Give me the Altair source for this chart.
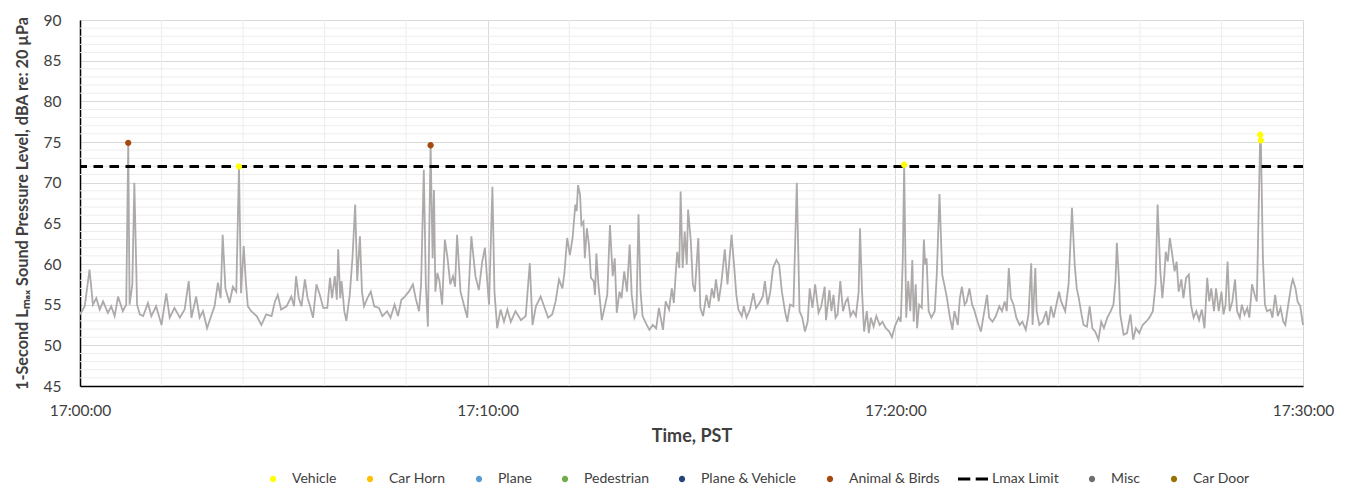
import altair as alt
import pandas as pd

# ---- time (seconds after 17:00:00) and 1-second Lmax level (dBA) ----
t_a = [0, 7, 14, 19, 24, 29, 34, 41, 46, 51,
       56, 63, 68, 71, 73, 77, 80, 84, 88, 93,
       100, 105, 112, 120, 127, 132, 139, 147, 154, 160,
       164, 171, 176, 181, 187, 193, 198, 203, 207, 210,
       214, 220, 225, 230, 234, 237, 241, 244, 247, 252,
       260, 267, 274, 282, 287, 291, 296, 304, 311, 315,
       318, 322, 326, 331, 335, 338, 343, 348, 353, 358]
v_a = [53.8, 54.8, 59.3, 55.0, 55.8, 54.4, 55.4, 54.0, 54.8, 53.6,
       56.0, 54.2, 55.0, 74.9, 55.0, 57.5, 70.0, 55.0, 53.8, 53.6,
       55.2, 53.6, 54.8, 52.5, 56.4, 53.4, 54.6, 53.4, 54.4, 57.9,
       53.4, 56.0, 53.4, 54.2, 52.1, 53.6, 54.8, 57.7, 55.8, 63.6,
       57.0, 55.2, 57.2, 56.6, 72.0, 56.4, 62.2, 57.9, 54.8, 54.2,
       53.6, 52.5, 53.8, 53.6, 55.4, 56.2, 54.4, 54.8, 56.0, 54.8,
       58.5, 55.8, 54.8, 58.1, 55.8, 55.0, 53.4, 57.5, 56.2, 54.6]

t_b = [364, 368, 371, 375, 378, 380, 383, 385, 389, 392,
       397, 401, 405, 408, 412, 415, 418, 423, 428, 433,
       440, 445, 452, 457, 463, 468, 473, 478, 484, 490,
       494, 499, 502, 506, 509, 512, 516, 519, 521, 523,
       526, 529, 533, 537, 541, 545, 549, 552, 555, 560,
       565, 570, 576, 582, 587, 592, 596, 599, 602, 607,
       610, 614, 619, 624, 629, 634, 641, 649, 656, 662,
       666, 671, 678, 683, 689, 695, 700, 705, 710, 713,
       717]
v_b = [54.6, 58.3, 55.8, 58.5, 55.6, 61.8, 55.8, 57.9, 54.2, 53.0,
       56.2, 60.7, 67.3, 57.9, 63.4, 56.6, 54.8, 55.8, 56.6, 54.8,
       54.6, 53.6, 54.2, 53.4, 55.0, 53.6, 55.6, 56.0, 56.6, 57.5,
       55.8, 54.2, 57.5, 71.6, 57.5, 52.3, 74.6, 60.7, 69.1, 56.6,
       58.9, 57.9, 55.0, 63.0, 60.7, 57.5, 58.5, 57.2, 63.6, 56.6,
       55.0, 53.4, 63.4, 58.5, 56.8, 60.3, 62.0, 58.3, 55.0, 69.5,
       56.6, 52.1, 54.4, 52.9, 54.4, 52.9, 54.2, 53.1, 53.6, 60.1,
       52.5, 54.8, 56.0, 54.8, 53.4, 53.8, 55.4, 58.1, 57.0, 58.9,
       63.2]

t_c = [721, 725, 729, 731, 733, 736, 738, 741, 743, 746,
       749, 752, 756, 758, 760, 763, 768, 773, 776, 780,
       784, 787, 790, 794, 797, 801, 805, 809, 812, 816,
       819, 822, 825, 828, 833, 838, 843, 848, 852, 858,
       862, 867, 871, 874, 877, 879, 882, 884, 887, 890,
       893, 895, 899, 902, 905, 910, 913, 917, 922, 926,
       930, 933, 936, 940, 944, 949, 953, 956, 959, 963,
       966, 969, 974, 977, 981, 986, 991, 995, 1000, 1005,
       1008, 1012, 1016, 1020, 1025, 1029, 1033, 1038, 1041, 1045,
       1050, 1055, 1059, 1063, 1067, 1071, 1074, 1078, 1082]
v_c = [61.1, 63.2, 67.3, 66.5, 69.7, 68.5, 64.8, 65.2, 60.7, 64.4,
       62.4, 58.3, 57.9, 56.2, 61.3, 57.5, 53.1, 55.0, 56.2, 64.8,
       58.5, 60.7, 54.0, 56.6, 55.8, 59.1, 56.6, 62.4, 56.2, 53.4,
       54.0, 66.1, 56.6, 53.6, 52.7, 51.9, 52.5, 52.1, 54.6, 51.9,
       55.4, 54.4, 57.0, 55.2, 59.1, 61.5, 59.5, 68.9, 59.5, 64.0,
       59.9, 66.7, 62.8, 57.5, 56.6, 63.2, 54.6, 53.6, 56.2, 54.6,
       57.0, 55.8, 58.1, 55.4, 57.7, 61.8, 57.5, 60.7, 63.6, 59.5,
       56.2, 54.4, 53.6, 54.8, 53.4, 54.4, 56.4, 54.6, 55.2, 56.0,
       57.9, 55.0, 56.6, 59.5, 60.5, 59.9, 56.6, 54.0, 52.9, 55.0,
       54.8, 70.0, 54.2, 53.4, 51.7, 52.9, 57.0, 54.6, 57.5]

t_d = [1087, 1091, 1096, 1098, 1103, 1106, 1109, 1112, 1115, 1119,
       1123, 1127, 1130, 1134, 1138, 1142, 1146, 1148, 1151, 1154,
       1158, 1161, 1164, 1168, 1172, 1177, 1181, 1186, 1191, 1195,
       1200, 1205, 1208, 1211, 1213, 1216, 1219, 1222, 1225, 1227,
       1230, 1232, 1235, 1239, 1242, 1244, 1246, 1249, 1253, 1258,
       1261, 1265, 1269, 1272, 1276, 1280, 1284, 1287, 1292, 1295,
       1298, 1302, 1305, 1309, 1313, 1316, 1321, 1326, 1331, 1335,
       1338, 1343, 1348, 1353, 1357, 1361, 1364, 1367, 1370, 1374,
       1378, 1383, 1387, 1392, 1396, 1400, 1402, 1406, 1408, 1412,
       1417, 1422, 1425, 1429, 1433, 1437, 1441, 1444]
v_d = [54.0, 54.8, 57.2, 53.1, 56.8, 54.2, 56.2, 53.4, 53.8, 57.9,
       54.2, 55.4, 55.8, 53.6, 54.2, 53.6, 56.6, 64.4, 56.6, 51.7,
       54.2, 51.5, 53.4, 52.3, 53.6, 52.5, 52.9, 52.1, 51.7, 51.0,
       52.5, 53.4, 52.9, 60.7, 72.2, 53.4, 57.9, 54.2, 60.5, 52.9,
       57.5, 52.1, 55.0, 54.6, 63.0, 59.9, 60.7, 54.2, 53.4, 54.2,
       58.7, 68.6, 58.7, 57.5, 55.8, 53.6, 51.9, 54.2, 52.5, 55.8,
       57.2, 55.0, 55.4, 57.0, 55.0, 54.4, 52.9, 51.7, 54.2, 56.2,
       53.4, 52.9, 53.6, 54.8, 54.2, 55.4, 54.2, 59.5, 55.8, 55.0,
       53.4, 52.5, 52.9, 51.9, 53.8, 60.1, 52.5, 59.5, 54.2, 52.5,
       52.9, 54.2, 52.5, 54.8, 53.4, 55.0, 56.6, 55.4]

t_e = [1450, 1455, 1460, 1464, 1467, 1470, 1474, 1477, 1482, 1486,
       1490, 1494, 1499, 1503, 1507, 1512, 1517, 1521, 1524, 1526,
       1529, 1531, 1536, 1541, 1546, 1550, 1554, 1559, 1564, 1569,
       1574, 1579, 1583, 1586, 1590, 1593, 1596, 1598, 1601, 1604,
       1607, 1611, 1614, 1617, 1621, 1624, 1628, 1632, 1635, 1639,
       1643, 1647, 1651, 1655, 1659, 1662, 1665, 1669, 1672, 1676,
       1680, 1683, 1686, 1689, 1692, 1696, 1700, 1703, 1707, 1710,
       1714, 1718, 1721, 1725, 1729, 1732, 1737, 1738, 1741, 1744,
       1747, 1752, 1755, 1759, 1763, 1767, 1771, 1774, 1779, 1783,
       1785, 1789, 1792, 1796, 1800]
v_e = [54.2, 57.5, 66.9, 59.9, 57.0, 55.8, 53.8, 52.5, 52.3, 54.8,
       52.1, 51.7, 50.7, 52.9, 52.1, 53.4, 54.2, 55.0, 57.9, 62.6,
       58.3, 53.8, 51.3, 51.5, 53.8, 50.7, 52.1, 51.5, 52.5, 52.9,
       53.4, 54.2, 57.5, 67.3, 59.1, 55.8, 58.7, 61.5, 60.3, 63.2,
       61.5, 59.1, 60.3, 56.6, 58.1, 55.8, 58.3, 58.7, 55.0, 53.4,
       54.2, 53.1, 54.4, 52.1, 58.3, 55.4, 57.0, 54.2, 57.0, 54.2,
       56.6, 53.8, 55.0, 60.3, 54.2, 55.4, 58.1, 54.2, 53.4, 55.0,
       53.8, 54.6, 53.4, 57.5, 56.2, 55.4, 75.9, 75.2, 60.7, 55.0,
       54.2, 54.4, 53.4, 56.2, 53.6, 54.6, 52.9, 52.5, 55.4, 57.5,
       58.1, 57.0, 55.4, 54.8, 52.5]

t_sec = t_a + t_b + t_c + t_d + t_e
level_db = v_a + v_b + v_c + v_d + v_e

# ---- identified events ----
event_t = [71, 234, 516, 1213, 1737, 1738]
event_db = [74.9, 72.0, 74.6, 72.2, 75.9, 75.2]
event_type = ["Animal & Birds", "Vehicle", "Animal & Birds", "Vehicle", "Vehicle", "Vehicle"]

# ---- legend / categories ----
legend_names = ["Vehicle", "Car Horn", "Plane", "Pedestrian", "Plane & Vehicle",
                "Animal & Birds", "Lmax Limit", "Misc", "Car Door"]
legend_colors = ["#FFFF00", "#FFC000", "#5B9BD5", "#70AD47", "#264478",
                 "#A5490E", "#000000", "#6E6E6E", "#997300"]

lmax_limit = [72]
y_ticks = [45, 50, 55, 60, 65, 70, 75, 80, 85, 90]
y_minor = [v for v in range(46, 90) if v % 5 != 0]
x_ticks = [0, 600, 1200, 1800]
x_minor = [120 * k for k in range(1, 15) if (120 * k) % 600 != 0]

FONT = "Lato"
TXT = "#404040"

line_df = pd.DataFrame({"t": t_sec, "db": level_db})
event_df = pd.DataFrame({"t": event_t, "db": event_db, "event": event_type})
limit_df = pd.DataFrame({"db": lmax_limit})
ymin_df = pd.DataFrame({"db": y_minor})
xmin_df = pd.DataFrame({"t": x_minor})

x_scale = alt.Scale(domain=[0, 1800], nice=False, zero=False)
y_scale = alt.Scale(domain=[45, 90], nice=False, zero=False)

circle_path = "M0.21,0A0.21,0.21,0,1,1,-0.21,0A0.21,0.21,0,1,1,0.21,0Z"
dash_path = "M-1,-0.1H-0.18V0.1H-1ZM0.18,-0.1H1V0.1H0.18Z"
shape_range = [dash_path if n == "Lmax Limit" else circle_path for n in legend_names]

x_axis = alt.Axis(
    values=x_ticks, grid=True, gridColor="#D9D9D9", gridWidth=1,
    domainColor="#000000", domainWidth=1.5, ticks=False,
    labelExpr="'17:' + (datum.value < 600 ? '0' : '') + format(datum.value / 60, 'd') + ':00'",
    labelFlush=False, labelOverlap=False, labelPadding=17,
    labelFont=FONT, labelFontSize=15.5, labelColor=TXT,
    title="Time, PST", titleFont=FONT, titleFontSize=18, titleFontWeight="bold",
    titleColor=TXT, titleX=611.5, titleY=50, titleAlign="center", titleBaseline="middle",
)
y_axis = alt.Axis(
    values=y_ticks, grid=True, gridColor="#D9D9D9", gridWidth=1,
    domainColor="#000000", domainWidth=1.5, ticks=False,
    labelPadding=19, labelFont=FONT, labelFontSize=15.5, labelColor=TXT,
    title="1-Second Lₘₐₓ Sound Pressure Level, dBA re: 20 µPa",
    titleFont=FONT, titleFontSize=16.2, titleFontWeight="bold", titleColor=TXT,
    titleAngle=270, titleX=-58, titleY=183, titleAlign="center", titleBaseline="middle",
)

grid_y = alt.Chart(ymin_df).mark_rule(color="#EDEDED", strokeWidth=1).encode(
    y=alt.Y("db:Q", scale=y_scale)
)
grid_x = alt.Chart(xmin_df).mark_rule(color="#EDEDED", strokeWidth=1).encode(
    x=alt.X("t:Q", scale=x_scale)
)

line = alt.Chart(line_df).mark_line(color="#AEAAAA", strokeWidth=1.8).encode(
    x=alt.X("t:Q", scale=x_scale, axis=x_axis),
    y=alt.Y("db:Q", scale=y_scale, axis=y_axis),
)

limit = alt.Chart(limit_df).mark_rule(color="#000000", strokeWidth=3, strokeDash=[9.5, 6.5]).encode(
    y=alt.Y("db:Q", scale=y_scale)
)

legend = alt.Legend(
    title=None, orient="none", legendX=178, legendY=444, direction="horizontal",
    symbolSize=900, symbolStrokeWidth=0, symbolOpacity=1,
    labelFont=FONT, labelFontSize=14, labelColor=TXT,
    columnPadding=18, labelOffset=4, padding=0,
)

points = alt.Chart(event_df).mark_point(filled=True, size=900, opacity=1).encode(
    x=alt.X("t:Q", scale=x_scale),
    y=alt.Y("db:Q", scale=y_scale),
    color=alt.Color("event:N", scale=alt.Scale(domain=legend_names, range=legend_colors), legend=legend),
    shape=alt.Shape("event:N", scale=alt.Scale(domain=legend_names, range=shape_range), legend=legend),
)

chart = alt.layer(grid_y, grid_x, line, limit, points).properties(
    width=1223, height=366,
    padding={"left": 72, "top": 12, "right": 44, "bottom": 100},
    autosize=alt.AutoSizeParams(type="none"),
    background="white",
).configure_view(stroke=None)

chart.save("out.html", embed_options={"renderer": "svg", "actions": False})
